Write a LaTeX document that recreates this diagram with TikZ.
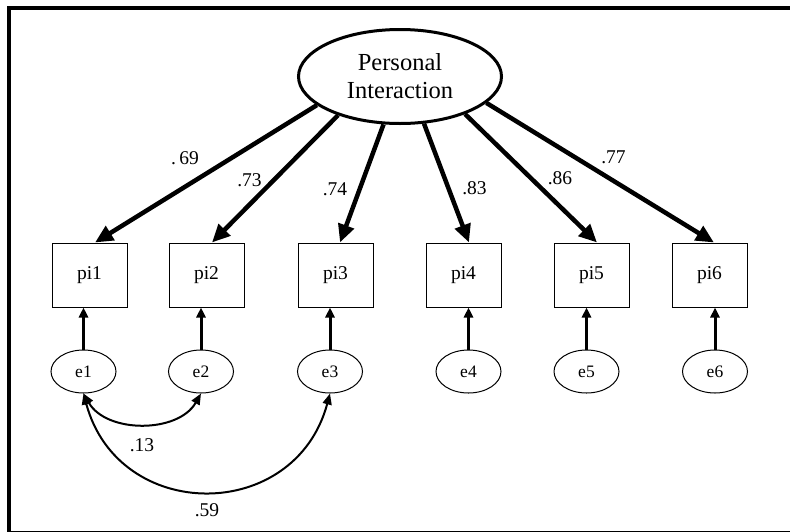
\documentclass[tikz,border=0pt]{standalone}
\usepackage{fontspec}
\setmainfont{Liberation Serif}
\usetikzlibrary{shapes.geometric,arrows.meta,calc}
\begin{document}
\begin{tikzpicture}[x=1pt,y=-1pt,
  latent/.style={draw,ellipse,line width=3pt,minimum width=203pt,minimum height=94pt,inner sep=0pt,align=center,font=\fontsize{24.5}{28}\selectfont},
  obs/.style={draw,rectangle,line width=1pt,minimum width=75pt,minimum height=64pt,inner sep=0pt,font=\fontsize{19.5}{22}\selectfont},
  err/.style={draw,ellipse,line width=1pt,minimum width=65pt,minimum height=43pt,inner sep=0pt,font=\fontsize{17.5}{20}\selectfont},
  load/.style={line width=4.5pt,-{Triangle[length=18pt,width=16pt]}},
  res/.style={line width=3pt,-{Triangle[length=10pt,width=9pt]}},
  cov/.style={line width=2pt,{Triangle[length=11pt,width=9pt]}-{Triangle[length=11pt,width=9pt]}},
  lbl/.style={font=\fontsize{19.5}{22}\selectfont,inner sep=0pt}
]
\useasboundingbox (0,0) rectangle (790,531);
\clip (0,0) rectangle (790,531);
\draw[line width=4pt] (9,8) rectangle (794,533);

\node[latent] (PI) at (400,76.5) {Personal\\Interaction};

\node[obs] (pi1) at (89.5,275) {pi1};
\node[obs] (pi2) at (206.5,275) {pi2};
\node[obs] (pi3) at (335.5,275) {pi3};
\node[obs] (pi4) at (463.5,275) {pi4};
\node[obs] (pi5) at (591.5,275) {pi5};
\node[obs] (pi6) at (709.5,275) {pi6};

\node[err] (e1) at (83.5,371.5) {e1};
\node[err] (e2) at (201,371.5) {e2};
\node[err] (e3) at (330,371.5) {e3};
\node[err] (e4) at (468.5,371.5) {e4};
\node[err] (e5) at (586.5,371.5) {e5};
\node[err] (e6) at (715,371.5) {e6};

\draw[load] (PI.199) -- ($(pi1.north)+(5.5,0)$);
\draw[load] (PI.212) -- ($(pi2.north)+(5.5,0)$);
\draw[load] (PI.251) -- ($(pi3.north)+(4.5,0)$);
\draw[load] (PI.297) -- ($(pi4.north)+(5.5,0)$);
\draw[load] (PI.330) -- ($(pi5.north)+(5.5,0)$);
\draw[load] (PI.343) -- ($(pi6.north)+(4.5,0)$);

\foreach \i in {1,...,6}{
  \draw[res] (e\i.north) -- (e\i.north |- pi\i.south);
}

\draw[cov] (e1.south) .. controls +(23,40) and +(-23,40) .. (e2.south);
\draw[cov] (e1.south) .. controls +(35,130) and +(-35,130) .. (e3.south);

\node[lbl] (l1) at (185,158) {.\,69};
\node[lbl] (l2) at (249.5,180) {.73};
\node[lbl] (l3) at (335,189.5) {.74};
\node[lbl] (l4) at (474.5,188) {.83};
\node[lbl] (l5) at (560,178) {.86};
\node[lbl] (l6) at (613.5,157.5) {.77};
\node[lbl] (l7) at (142,445.5) {.13};
\node[lbl] (l8) at (207,510) {.59};
\end{tikzpicture}
\end{document}
